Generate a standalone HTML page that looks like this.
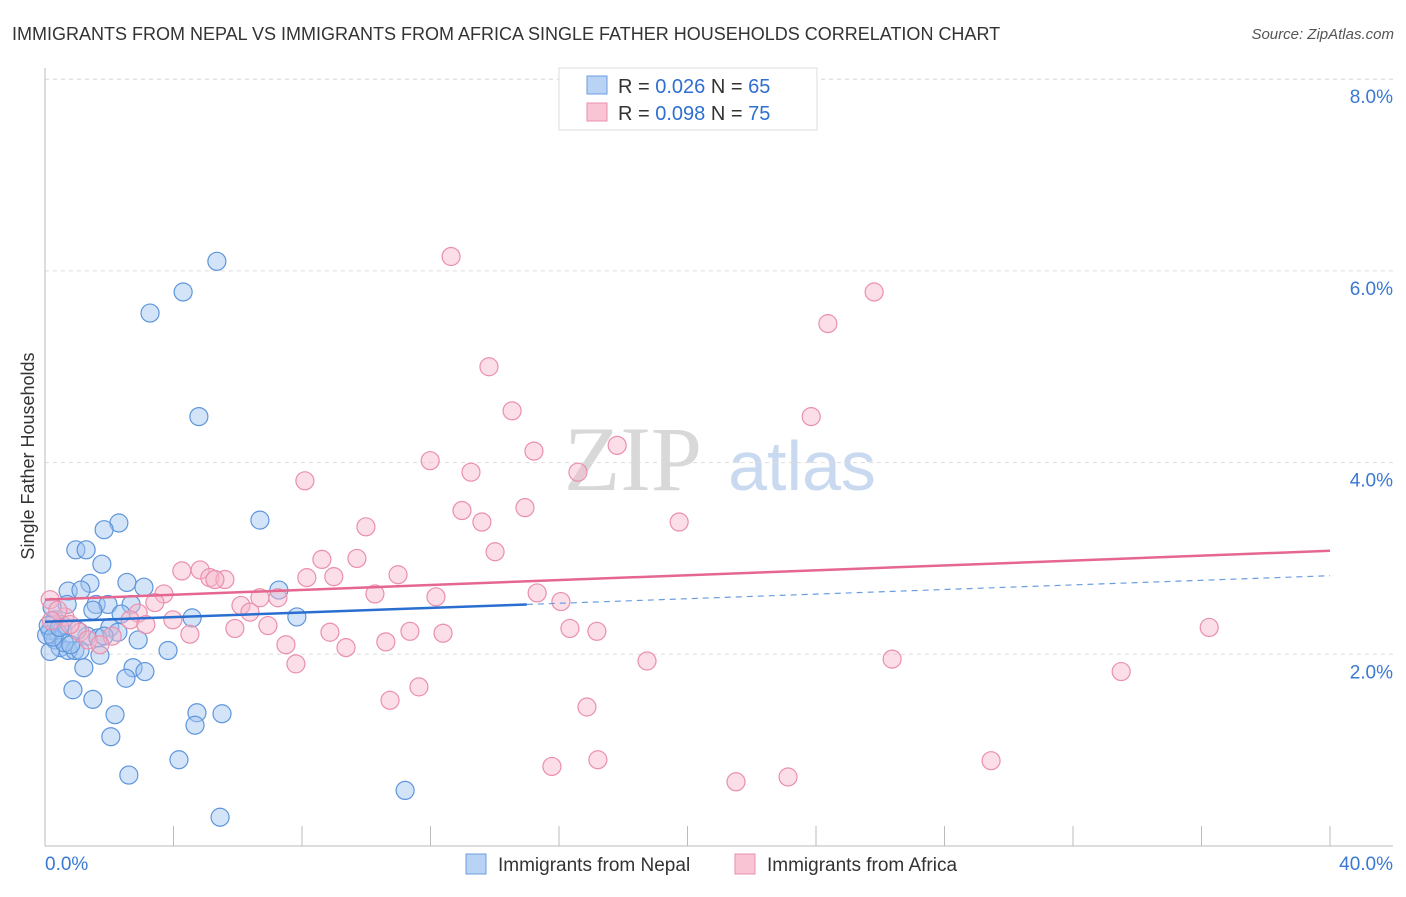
<!DOCTYPE html>
<html><head><meta charset="utf-8"><style>
body{margin:0;background:#fff;font-family:"Liberation Sans",sans-serif}
</style></head><body>
<svg width="1406" height="892" xmlns="http://www.w3.org/2000/svg" font-family="Liberation Sans, sans-serif">
<text x="12" y="40" font-size="18" fill="#333">IMMIGRANTS FROM NEPAL VS IMMIGRANTS FROM AFRICA SINGLE FATHER HOUSEHOLDS CORRELATION CHART</text>
<text x="1394" y="39" font-size="15" fill="#555" text-anchor="end" font-style="italic">Source: ZipAtlas.com</text>
<g><text x="633" y="490" font-size="92" fill="#d8d8d8" font-family="Liberation Serif, serif" text-anchor="middle">ZIP</text><text x="802" y="490" font-size="70" fill="#c9daf0" text-anchor="middle">atlas</text></g>
<g id="grid"></g><g id="axes"></g><g id="pts"></g><g id="lines"></g>
<text transform="translate(34,456) rotate(-90)" font-size="18" fill="#333" text-anchor="middle">Single Father Households</text>
<g>
<rect x="559" y="68" width="258" height="62" fill="#fff" stroke="#ddd"/>
<rect x="587" y="76" width="20" height="18" fill="#b9d3f5" stroke="#6a9ee0"/>
<rect x="587" y="103" width="20" height="18" fill="#f9c5d5" stroke="#ea8fae"/>
<text x="618" y="93" font-size="20" fill="#333">R = <tspan fill="#2f6fd0">0.026</tspan>   N = <tspan fill="#2f6fd0">65</tspan></text>
<text x="618" y="120" font-size="20" fill="#333">R = <tspan fill="#2f6fd0">0.098</tspan>   N = <tspan fill="#2f6fd0">75</tspan></text>
</g>
<g>
<rect x="466" y="854" width="20" height="20" fill="#b9d3f5" stroke="#6a9ee0"/>
<text x="498" y="871" font-size="19" fill="#333">Immigrants from Nepal</text>
<rect x="735" y="854" width="20" height="20" fill="#f9c5d5" stroke="#ea8fae"/>
<text x="767" y="871" font-size="19" fill="#333">Immigrants from Africa</text>
</g>
<script>
const yTicks=[2,4,6,8];
const xTickLabels=["0.0%","40.0%"];
const nepalX=[5.35,4.30,3.27,4.79,6.69,2.30,1.84,0.96,1.28,1.77,1.40,2.55,3.08,7.28,0.72,1.12,0.69,1.59,1.96,2.68,2.37,1.49,4.58,7.84,0.31,0.53,0.16,0.40,2.02,2.27,1.31,1.65,1.84,2.90,0.31,0.47,0.72,0.93,1.09,0.16,1.71,3.83,1.21,2.74,3.11,2.52,0.87,1.49,2.18,4.73,5.51,4.67,2.05,4.17,2.61,11.21,5.45,0.22,0.05,0.10,0.60,0.25,1.00,0.45,0.80];
const nepalY=[6.10,5.78,5.56,4.48,3.40,3.37,3.30,3.09,3.09,2.94,2.74,2.75,2.70,2.67,2.66,2.67,2.52,2.52,2.52,2.52,2.42,2.46,2.38,2.39,2.36,2.31,2.25,2.22,2.28,2.23,2.19,2.17,2.19,2.15,2.15,2.07,2.04,2.04,2.04,2.03,1.99,2.04,1.86,1.86,1.82,1.75,1.63,1.53,1.37,1.39,1.38,1.26,1.14,0.90,0.74,0.58,0.30,2.49,2.20,2.30,2.12,2.18,2.25,2.28,2.10];
const africaX=[12.64,25.81,24.37,13.82,14.54,23.85,17.81,15.22,11.99,13.26,16.59,8.09,12.98,14.94,13.60,19.74,9.99,14.01,8.62,9.71,4.26,4.83,5.13,5.60,5.29,10.99,8.15,8.99,3.70,6.69,7.25,10.27,12.17,15.32,3.42,6.10,16.06,0.16,2.90,6.38,0.62,2.65,3.98,3.14,5.91,6.94,16.34,17.18,36.24,8.87,11.36,12.39,4.51,1.09,2.09,1.34,7.50,9.37,10.61,1.71,7.81,18.74,26.37,33.50,11.64,10.74,16.87,15.78,17.21,21.51,23.13,29.45,0.40,0.78,0.20];
const africaY=[6.15,5.78,5.45,5.00,4.54,4.48,4.18,4.12,4.02,3.90,3.90,3.81,3.50,3.53,3.38,3.38,3.33,3.07,2.99,3.00,2.87,2.88,2.80,2.78,2.78,2.83,2.80,2.81,2.63,2.59,2.59,2.63,2.60,2.64,2.54,2.51,2.55,2.57,2.43,2.44,2.39,2.36,2.36,2.31,2.27,2.30,2.27,2.24,2.28,2.23,2.24,2.22,2.21,2.23,2.19,2.15,2.10,2.07,2.13,2.10,1.90,1.93,1.95,1.82,1.66,1.52,1.45,0.83,0.90,0.67,0.72,0.89,2.46,2.31,2.35];
const nepalTrend=[2.34,2.82];
const africaTrend=[2.57,3.08];
const xs=v=>45+v/40*1285, ys=v=>846-v*95.85;
const NS="http://www.w3.org/2000/svg";
function mk(p,t,a){const e=document.createElementNS(NS,t);for(const k in a)e.setAttribute(k,a[k]);document.getElementById(p).appendChild(e);return e;}
yTicks.forEach(t=>{
 const l=mk('grid','line',{x1:45,x2:1393,y1:ys(t),y2:ys(t),stroke:'#ddd','stroke-dasharray':'4,4'});
 
 
 const tx=mk('grid','text',{x:1393,y:ys(t)+24,'font-size':19,fill:'#3a78d4','text-anchor':'end'});tx.textContent=t.toFixed(1)+'%';
 
 
});
mk('grid','line',{x1:45,x2:1393,y1:ys(8),y2:ys(8),stroke:'#ddd','stroke-dasharray':'4,4'});
mk('axes','line',{x1:45,x2:45,y1:68,y2:846,stroke:'#bbb'});
mk('axes','line',{x1:45,x2:1393,y1:846,y2:846,stroke:'#bbb'});
for(let v=0;v<=40;v+=4){const l=mk('axes','line',{x1:xs(v),x2:xs(v),y1:826,y2:846,stroke:'#bbb'});
 
 }
const a0=mk('axes','text',{x:45,y:870,'font-size':19,fill:'#3a78d4'});a0.textContent=xTickLabels[0];
const a1=mk('axes','text',{x:1393,y:870,'font-size':19,fill:'#3a78d4','text-anchor':'end'});a1.textContent=xTickLabels[1];
nepalX.forEach((x,i)=>{const c=mk('pts','circle',{cx:xs(x),cy:ys(nepalY[i]),r:9,fill:'rgba(160,195,240,0.45)',stroke:'#5d95dc','stroke-width':1.2});
 
 });
africaX.forEach((x,i)=>{const c=mk('pts','circle',{cx:xs(x),cy:ys(africaY[i]),r:9,fill:'rgba(246,182,202,0.45)',stroke:'#ea8fae','stroke-width':1.2});
 
 });
const bAt=x=>nepalTrend[0]+(nepalTrend[1]-nepalTrend[0])*x/40;
const l1=mk('lines','line',{x1:xs(0),y1:ys(bAt(0)),x2:xs(15),y2:ys(bAt(15)),stroke:'#2a6fd0','stroke-width':2.5});


const l2=mk('lines','line',{x1:xs(15),y1:ys(bAt(15)),x2:xs(40),y2:ys(bAt(40)),stroke:'#6a9ee0','stroke-width':1.2,'stroke-dasharray':'6,5'});


const l3=mk('lines','line',{x1:xs(0),y1:ys(africaTrend[0]),x2:xs(40),y2:ys(africaTrend[1]),stroke:'#e5668f','stroke-width':2.5});


</script>
</svg>
</body></html>
